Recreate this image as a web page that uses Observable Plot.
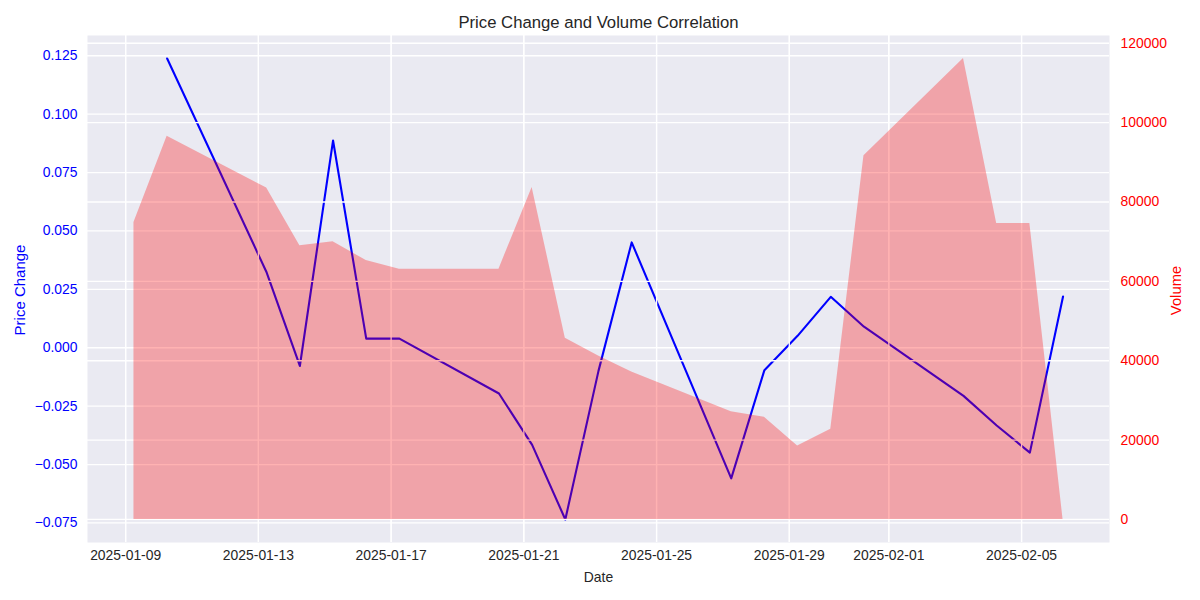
<!DOCTYPE html>
<html><head><meta charset="utf-8">
<script src="https://cdn.jsdelivr.net/npm/d3@7"></script>
<script src="https://cdn.jsdelivr.net/npm/@observablehq/plot@0.6"></script>
<style>
body{margin:0;background:#fff;}
#chart{position:relative;width:1200px;height:600px;}
#chart svg{position:absolute;left:0;top:0;}
</style></head><body><div id="chart"></div>
<script>
const dates = [
  "2025-01-09 06:00","2025-01-10 06:00","2025-01-13 06:00","2025-01-14 06:00","2025-01-15 06:00",
  "2025-01-16 06:00","2025-01-17 06:00","2025-01-20 06:00","2025-01-21 06:00","2025-01-22 06:00",
  "2025-01-23 06:00","2025-01-24 06:00","2025-01-27 06:00","2025-01-28 06:00","2025-01-29 06:00",
  "2025-01-30 06:00","2025-01-31 06:00","2025-02-03 06:00","2025-02-04 06:00","2025-02-05 06:00",
  "2025-02-06 06:00"
];
const priceChange = [
  null, 0.1238, 0.0322, -0.0078, 0.0887,
  0.0039, 0.0039, -0.0196, -0.0416, -0.0735,
  -0.0099, 0.0451, -0.0559, -0.0096, 0.0051,
  0.0218, 0.0090, -0.0206, -0.0333, -0.0449,
  0.0219
];
const volume = [
  74840, 96540, 83520, 68960, 69970,
  65250, 63080, 63080, 83670, 45670,
  41210, 37170, 27150, 25740, 18500,
  22710, 91670, 116150, 74590, 74590,
  0
];
const xTickLabels = ["2025-01-09","2025-01-13","2025-01-17","2025-01-21","2025-01-25","2025-01-29","2025-02-01","2025-02-05"];
const priceTicks = [-0.075, -0.05, -0.025, 0, 0.025, 0.05, 0.075, 0.1, 0.125];
const volumeTicks = [0, 20000, 40000, 60000, 80000, 100000, 120000];

const parse = d3.utcParse("%Y-%m-%d %H:%M");
const data = dates.map((d, i) => ({date: parse(d), pc: priceChange[i], vol: volume[i]}));
const pad = ([a, b]) => { const m = (b - a) * 0.05; return [a - m, b + m]; };
const xExt = d3.extent(data, d => +d.date);
const xDomain = pad(xExt).map(t => new Date(t));
const yLeftDomain = pad(d3.extent(priceChange.filter(v => v != null)));
const yRightDomain = pad([0, d3.max(volume)]);
const xTicks = xTickLabels.map(d3.utcParse("%Y-%m-%d"));

const W = 1200, H = 600;
const margins = {marginTop: 35, marginRight: 91, marginBottom: 58, marginLeft: 87};
const font = '"Liberation Sans", Arial, "DejaVu Sans", sans-serif';
const style = {fontFamily: font, fontSize: "13.9px", background: "transparent", overflow: "visible"};
const textColor = "#262626";
const grid = {stroke: "white", strokeOpacity: 1, strokeWidth: 1.3};

const bottomPlot = Plot.plot({
  width: W, height: H, ...margins, style,
  x: {type: "utc", domain: xDomain, axis: null},
  y: {domain: yLeftDomain},
  marks: [
    Plot.frame({fill: "#EAEAF2", stroke: null}),
    Plot.gridX(xTicks, grid),
    Plot.gridY(priceTicks, grid),
    Plot.lineY(data, {x: "date", y: "pc", stroke: "blue", strokeWidth: 2.1}),
    Plot.axisY(priceTicks, {anchor: "left", tickSize: 0, tickPadding: 10, tickFormat: d3.format(".3f"), color: "blue", fontSize: 13.9, label: null}),
    Plot.text(["Price Change"], {text: d => d, frameAnchor: "left", dx: -67.3, dy: 1, rotate: -90, fill: "blue", textAnchor: "middle", lineAnchor: "middle", fontSize: 15}),
    Plot.text(["Price Change and Volume Correlation"], {text: d => d, frameAnchor: "top", lineAnchor: "bottom", dy: -7.7, fill: textColor, fontSize: 16.7})
  ]
});

const topPlot = Plot.plot({
  width: W, height: H, ...margins, style,
  x: {type: "utc", domain: xDomain},
  y: {domain: yRightDomain},
  marks: [
    Plot.gridX(xTicks, grid),
    Plot.gridY(volumeTicks, grid),
    Plot.areaY(data, {x: "date", y: "vol", fill: "red", fillOpacity: 0.3}),
    Plot.axisY(volumeTicks, {anchor: "right", tickSize: 0, tickPadding: 11, tickFormat: d3.format("d"), color: "red", fontSize: 13.9, label: null}),
    Plot.axisX(xTicks, {anchor: "bottom", tickSize: 0, tickPadding: 8, tickFormat: d3.utcFormat("%Y-%m-%d"), color: textColor, fontSize: 13.9, label: null}),
    Plot.text(["Volume"], {text: d => d, frameAnchor: "right", dx: 67, dy: 1.5, rotate: -90, fill: "red", textAnchor: "middle", lineAnchor: "middle", fontSize: 14.8}),
    Plot.text(["Date"], {text: d => d, frameAnchor: "bottom", lineAnchor: "bottom", dy: 39.7, fill: textColor, fontSize: 13.9})
  ]
});

const chart = document.getElementById("chart");
chart.appendChild(bottomPlot);
chart.appendChild(topPlot);
</script></body></html>
